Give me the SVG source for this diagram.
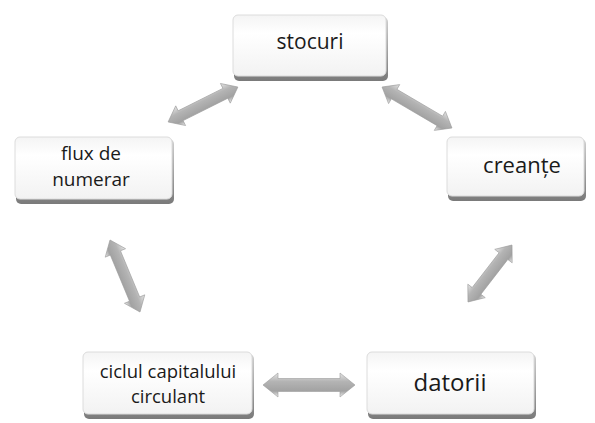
<svg xmlns="http://www.w3.org/2000/svg" width="595" height="423" viewBox="0 0 595 423">
<style>
.t{font-family:"Open Sans","Liberation Sans",sans-serif;fill:#1a1a1a;text-anchor:middle}
.bk{fill:url(#sh)}
.fr{fill:url(#bx);stroke:#dcdcdc;stroke-width:1}
.ar{fill:url(#ag);stroke:#9a9a9a;stroke-width:0.6}
</style>
<defs>
<linearGradient id="bx" x1="0" y1="0" x2="0" y2="1">
<stop offset="0" stop-color="#f4f4f4"/><stop offset="0.3" stop-color="#ffffff"/><stop offset="1" stop-color="#f2f2f2"/>
</linearGradient>
<linearGradient id="sh" x1="0" y1="0" x2="0" y2="1">
<stop offset="0" stop-color="#cfcfcf"/><stop offset="1" stop-color="#7a7a7a"/>
</linearGradient>
<linearGradient id="ag" x1="0" y1="0" x2="0" y2="1">
<stop offset="0" stop-color="#e6e6e6"/><stop offset="0.35" stop-color="#b4b4b4"/><stop offset="0.75" stop-color="#a2a2a2"/><stop offset="1" stop-color="#f0f0f0"/>
</linearGradient>
</defs>
<g id="stocuri">
<rect class="bk" x="234" y="17" width="154" height="64" rx="5"/>
<rect class="fr" x="233" y="15" width="153" height="61" rx="5"/>
<text class="t" x="310" y="49" font-size="21">stocuri</text>
</g>
<g id="flux">
<rect class="bk" x="16" y="139" width="158" height="65" rx="5"/>
<rect class="fr" x="15" y="137" width="157" height="62" rx="5"/>
<text class="t" x="91" y="160" font-size="19">flux de</text>
<text class="t" x="91" y="186" font-size="19">numerar</text>
</g>
<g id="creante">
<rect class="bk" x="448" y="139" width="138" height="62" rx="5"/>
<rect class="fr" x="447" y="137" width="137" height="59" rx="5"/>
<text class="t" x="522" y="173" font-size="22">creanțe</text>
</g>
<g id="ciclul">
<rect class="bk" x="84" y="354" width="170" height="65" rx="5"/>
<rect class="fr" x="83" y="352" width="169" height="62" rx="5"/>
<text class="t" x="168" y="377.5" font-size="18.5">ciclul capitalului</text>
<text class="t" x="168" y="403" font-size="18.5">circulant</text>
</g>
<g id="datorii">
<rect class="bk" x="368" y="354" width="168" height="65" rx="5"/>
<rect class="fr" x="367" y="352" width="167" height="62" rx="5"/>
<text class="t" x="450" y="391" font-size="24">datorii</text>
</g>
<g id="connectors">
<path class="ar" transform="translate(203,104.5) rotate(-26.6)" d="M-39 0L-25 -11L-25 -5.5L25 -5.5L25 -11L39 0L25 11L25 5.5L-25 5.5L-25 11Z"/>
<path class="ar" transform="translate(417,107.5) rotate(30.4)" d="M-40.5 0L-26.5 -11L-26.5 -5.5L26.5 -5.5L26.5 -11L40.5 0L26.5 11L26.5 5.5L-26.5 5.5L-26.5 11Z"/>
<path class="ar" transform="translate(125,276) rotate(67.4)" d="M-39 0L-25 -11L-25 -5.5L25 -5.5L25 -11L39 0L25 11L25 5.5L-25 5.5L-25 11Z"/>
<path class="ar" transform="translate(490,273.5) rotate(-52.3)" d="M-36 0L-22 -11L-22 -5.5L22 -5.5L22 -11L36 0L22 11L22 5.5L-22 5.5L-22 11Z"/>
<path class="ar" transform="translate(309,385)" d="M-46 0L-31 -12L-31 -6.5L31 -6.5L31 -12L46 0L31 12L31 6.5L-31 6.5L-31 12Z"/>
</g>
</svg>
